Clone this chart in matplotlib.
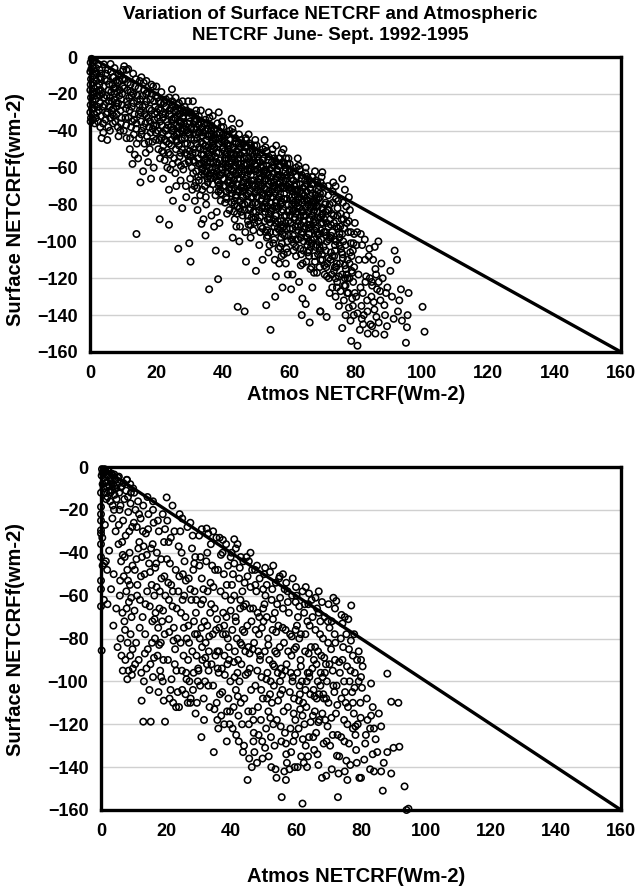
import numpy as np
import matplotlib.pyplot as plt

plt.rcParams['font.family'] = ['Liberation Sans', 'DejaVu Sans']
plt.rcParams['font.weight'] = 'bold'

TITLE = 'Variation of Surface NETCRF and Atmospheric\nNETCRF June- Sept. 1992-1995'
XLABEL = 'Atmos NETCRF(Wm-2)'
YLABEL = 'Surface NETCRFf(wm-2)'
X_TICKS = [0, 20, 40, 60, 80, 100, 120, 140, 160]
Y_TICKS = [0, -20, -40, -60, -80, -100, -120, -140, -160]
LINE_X = [0, 160]
LINE_Y = [0, -160]

# top panel: (atmos, surface)
top_pts = [
    (0.2, -3), (0.1, -8), (0.3, -12), (0.2, -15), (0.1, -18), (0.3, -22), (0.2, -26), (0.1, -30), (0.3, -33), (0.2, -35),
    (0.8, -5), (1.1, -10), (0.9, -14), (1.2, -17), (1.0, -20), (0.8, -24), (1.1, -28), (1.3, -31), (0.9, -34), (1.2, -12),
    (1.8, -6), (2.1, -9), (1.9, -13), (2.2, -16), (2.0, -19), (1.7, -23), (2.3, -27), (2.1, -30), (1.8, -33), (2.2, -21),
    (2.9, -7), (3.1, -11), (2.8, -15), (3.2, -18), (3.0, -25), (2.7, -29), (3.3, -32), (0.5, -1), (1.5, -2), (2.5, -4),
    (4.2, -4), (4.8, -9), (5.1, -13), (5.6, -18), (6.0, -22), (6.3, -8), (6.8, -15), (7.2, -11), (7.5, -20), (7.9, -25),
    (8.3, -14), (8.6, -9), (9.0, -18), (9.4, -23), (9.8, -12), (3.6, -20), (4.4, -26), (5.3, -30), (6.1, -33), (7.0, -28),
    (8.0, -31), (9.2, -29), (3.9, -36), (4.7, -34), (5.9, -27), (6.6, -24), (7.7, -17), (8.8, -21), (9.6, -26), (10.0, -7),
    (3.5, -44), (5.2, -45), (6.9, -36), (8.4, -38), (4.1, -16), (5.0, -21), (7.4, -6), (9.9, -16), (3.3, -12), (6.4, -19),
    (8.1, -27), (9.5, -33), (10.3, -5), (7.8, -13), (5.5, -38), (4.0, -41), (9.1, -40), (6.0, -40), (8.6, -43), (7.2, -32),
    (6.2, -3.8), (11.5, -6.5), (15.0, -13), (24.7, -17.5), (31.0, -24), (33.6, -39), (42.7, -33.5), (45.0, -36), (70.0, -62.5),
    (10.5, -12), (11.0, -7), (11.3, -18), (11.8, -22), (12.2, -15), (12.6, -27), (13.0, -20), (13.4, -31), (13.8, -12), (14.2, -24),
    (14.6, -17), (15.0, -29), (15.4, -35), (15.8, -21), (16.2, -14), (16.6, -26), (17.0, -32), (17.4, -19), (17.8, -38), (18.2, -23),
    (18.6, -29), (19.0, -16), (19.4, -34), (19.8, -41), (10.8, -28), (11.6, -33), (12.4, -38), (13.2, -42), (14.0, -36), (14.8, -44),
    (15.6, -40), (16.4, -47), (17.2, -43), (18.0, -50), (18.8, -46), (19.6, -27), (12.0, -50), (13.5, -53), (12.8, -58), (14.5, -55),
    (16.0, -62), (17.5, -57), (18.4, -66), (19.2, -60), (15.2, -68), (14.0, -96), (11.0, -44), (10.2, -40), (16.8, -52), (19.9, -21),
    (13.0, -9), (15.5, -11), (17.0, -13), (18.5, -15), (20.0, -16),
    (20.3, -22), (20.7, -28), (21.1, -35), (21.5, -19), (21.9, -41), (22.3, -25), (22.7, -31), (23.1, -46), (23.5, -37), (23.9, -22),
    (24.3, -28), (25.1, -34), (25.5, -43), (25.9, -50), (26.3, -26), (26.7, -38), (27.1, -31), (27.5, -45), (27.9, -24), (28.3, -36),
    (28.7, -52), (29.1, -29), (29.5, -41), (29.9, -33), (20.9, -45), (21.7, -51), (22.5, -56), (23.3, -60), (24.1, -53), (24.9, -58),
    (25.7, -63), (26.5, -57), (27.3, -67), (28.1, -61), (28.9, -70), (29.7, -56), (21.0, -88), (23.8, -91), (26.6, -104), (29.9, -101),
    (30.3, -111), (22.0, -66), (23.8, -72), (25.0, -78), (26.0, -70), (27.8, -82), (29.0, -76), (22.8, -40), (24.6, -45), (26.8, -48),
    (28.5, -27), (29.3, -47), (20.4, -33), (23.0, -27), (25.3, -29), (26.9, -35), (28.0, -39), (21.3, -25), (22.1, -48), (24.4, -38),
    (25.8, -22), (27.6, -28), (29.6, -24), (23.6, -52), (26.1, -42),
    (30.2, -30), (30.6, -38), (31.4, -45), (31.8, -52), (32.2, -34), (32.6, -41), (33.0, -58), (33.4, -29), (34.0, -47), (34.4, -36),
    (34.8, -55), (35.2, -62), (35.6, -43), (36.0, -33), (36.4, -50), (36.8, -38), (37.2, -57), (37.6, -65), (38.0, -45), (38.4, -36),
    (38.8, -52), (39.2, -41), (39.6, -60), (30.4, -48), (31.2, -56), (32.0, -62), (32.8, -67), (33.8, -61), (34.6, -70), (35.4, -66),
    (36.2, -72), (37.0, -69), (37.8, -75), (38.6, -68), (39.4, -78), (30.8, -72), (31.6, -78), (32.4, -83), (33.2, -75), (34.2, -88),
    (35.0, -80), (36.6, -86), (37.4, -92), (38.2, -84), (39.0, -90), (35.9, -126), (37.9, -105), (34.8, -96.8), (33.6, -90.5), (38.6, -120.5),
    (39.8, -35), (35.8, -30), (37.0, -32), (38.8, -30), (32.0, -29), (34.8, -34), (36.6, -42), (30.0, -42), (31.5, -35), (32.9, -49),
    (34.3, -53), (35.7, -49), (37.1, -46), (38.5, -58), (39.9, -50), (30.7, -60), (33.5, -64), (36.9, -61), (38.9, -64), (31.9, -68),
    (35.3, -57), (37.7, -54), (39.3, -72), (34.9, -76), (32.3, -71), (33.7, -43), (36.3, -66),
    (40.2, -38), (40.6, -46), (41.0, -53), (41.4, -42), (41.8, -60), (42.2, -48), (43.0, -55), (43.4, -67), (43.8, -44), (44.2, -51),
    (44.6, -73), (45.4, -58), (45.8, -64), (46.2, -47), (46.6, -80), (47.0, -54), (47.4, -70), (47.8, -42), (48.2, -61), (48.6, -76),
    (49.0, -50), (49.4, -67), (49.8, -45), (40.4, -70), (41.2, -77), (42.0, -83), (42.8, -74), (43.6, -88), (44.4, -81), (45.2, -92),
    (46.0, -86), (46.8, -95), (47.6, -89), (48.4, -98), (49.2, -84), (44.5, -135.5), (46.6, -138), (47.0, -111), (41.0, -107), (50.0, -116),
    (40.8, -56), (41.6, -50), (42.4, -64), (43.2, -41), (44.0, -59), (44.8, -47), (45.6, -71), (46.4, -62), (47.2, -49), (48.0, -69),
    (48.8, -57), (49.6, -74), (40.0, -63), (41.5, -68), (43.5, -78), (45.5, -84), (47.5, -79), (49.5, -90), (42.6, -57), (44.5, -66),
    (46.5, -55), (48.5, -48), (40.5, -44), (42.9, -39), (44.9, -42), (46.9, -44), (48.9, -52), (41.9, -72), (43.9, -63), (45.9, -76),
    (47.9, -83), (49.9, -62), (41.3, -85), (44.1, -92), (46.3, -68), (48.1, -73), (42.5, -52), (45.3, -53), (47.3, -64), (49.3, -56),
    (43.3, -49), (40.9, -58), (46.7, -72), (48.7, -87), (43.0, -98), (45.0, -100),
    (50.2, -48), (50.6, -56), (51.0, -63), (51.4, -52), (51.8, -70), (52.2, -59), (52.6, -45), (53.0, -66), (53.4, -77), (53.8, -54),
    (54.2, -61), (54.6, -83), (55.0, -50), (55.4, -68), (55.8, -74), (56.2, -57), (56.6, -89), (57.0, -64), (57.4, -80), (57.8, -52),
    (58.2, -71), (58.6, -86), (59.0, -60), (59.4, -77), (59.8, -55), (50.4, -80), (51.2, -87), (52.0, -93), (52.8, -84), (53.6, -97),
    (54.4, -90), (55.2, -101), (56.0, -95), (56.8, -104), (57.6, -98), (58.4, -107), (59.2, -93), (54.4, -148), (53.1, -134.6), (55.8, -130),
    (56.0, -119), (58.0, -125), (57.0, -112), (52.0, -110), (59.6, -118), (50.8, -66), (51.6, -60), (52.4, -74), (53.2, -51), (54.0, -69),
    (54.8, -57), (55.6, -81), (56.4, -72), (57.2, -59), (58.0, -79), (58.8, -67), (59.6, -84), (50.0, -73), (51.5, -78), (53.5, -88),
    (55.5, -92), (57.5, -89), (59.5, -100), (52.6, -67), (54.5, -76), (56.5, -65), (58.5, -58), (50.5, -54), (52.9, -49), (54.9, -53),
    (56.9, -55), (58.9, -62), (51.9, -82), (53.9, -73), (55.9, -86), (57.9, -93), (59.9, -72), (51.3, -95), (54.1, -102), (56.3, -78),
    (58.1, -83), (52.5, -62), (55.3, -63), (57.3, -74), (59.3, -66), (53.3, -59), (50.9, -68), (56.7, -82), (58.7, -97), (55.7, -110),
    (57.7, -108), (59.0, -112), (51.0, -102), (53.8, -106), (58.3, -50), (59.1, -55), (56.1, -48),
    (60.2, -58), (60.6, -66), (61.0, -73), (61.4, -62), (61.8, -80), (62.2, -69), (62.6, -55), (63.0, -76), (63.4, -87), (63.8, -64),
    (64.2, -71), (64.6, -93), (65.0, -60), (65.4, -78), (65.8, -84), (66.2, -67), (66.6, -99), (67.0, -74), (67.4, -90), (67.8, -62),
    (68.2, -81), (68.6, -96), (69.0, -70), (69.4, -87), (69.8, -65), (60.4, -90), (61.2, -97), (62.0, -103), (62.8, -94), (63.6, -107),
    (64.4, -100), (65.2, -111), (66.0, -105), (66.8, -114), (67.6, -108), (68.4, -117), (69.2, -103), (63.8, -140), (66.2, -144), (60.6, -126),
    (65.0, -134), (64.0, -131), (69.4, -138), (61.0, -118), (63.0, -122), (60.8, -76), (61.6, -70), (62.4, -84), (63.2, -61), (64.0, -79),
    (64.8, -67), (65.6, -91), (66.4, -82), (67.2, -69), (68.0, -89), (68.8, -77), (69.6, -94), (60.0, -83), (61.5, -88), (63.5, -98),
    (65.5, -102), (67.5, -99), (69.5, -110), (62.6, -77), (64.5, -86), (66.5, -75), (68.5, -68), (60.5, -64), (62.9, -59), (64.9, -63),
    (66.9, -65), (68.9, -72), (61.9, -92), (63.9, -83), (65.9, -96), (67.9, -103), (69.9, -82), (61.3, -105), (64.1, -112), (66.3, -88),
    (68.1, -93), (62.5, -72), (65.3, -73), (67.3, -84), (69.3, -76), (63.3, -69), (60.9, -78), (66.7, -92), (68.7, -107), (67.0, -125),
    (70.3, -70), (70.8, -80), (71.3, -90), (71.8, -75), (72.3, -98), (72.8, -85), (73.3, -68), (73.8, -105), (74.3, -92), (74.8, -78),
    (75.3, -112), (75.8, -88), (76.3, -100), (76.8, -72), (77.3, -118), (77.8, -95), (78.3, -83), (78.8, -108), (79.3, -122), (79.8, -90),
    (70.5, -95), (71.0, -105), (71.5, -112), (72.0, -120), (72.5, -110), (73.0, -125), (73.5, -116), (74.0, -130), (74.5, -122), (75.0, -135),
    (75.5, -127), (76.0, -118), (76.5, -132), (77.0, -140), (77.5, -128), (78.0, -136), (78.5, -143), (79.0, -131), (79.5, -140), (71.3, -141),
    (70.0, -85), (71.2, -97), (72.6, -91), (73.6, -99), (74.6, -86), (75.6, -104), (76.6, -93), (77.6, -110), (78.6, -101), (79.6, -114),
    (70.7, -118), (72.2, -128), (74.2, -114), (76.2, -109), (78.2, -120), (71.6, -83), (73.2, -79), (75.2, -96), (77.2, -86), (79.2, -105),
    (76.0, -147), (78.7, -154), (74.0, -70), (69.4, -138), (76.0, -66), (78.0, -76), (77.0, -124), (73.0, -108), (76.8, -120),
    (80.6, -156.6), (80.5, -95), (81.0, -110), (81.5, -125), (82.0, -102), (82.5, -140), (83.2, -119), (83.5, -132), (84.0, -108), (84.5, -145),
    (85.0, -124), (85.7, -137), (86.0, -115), (86.0, -150), (86.3, -141), (87.0, -144), (87.4, -127), (88.7, -134.6), (88.7, -150.6), (89.2, -128),
    (89.5, -146), (80.2, -130), (81.8, -135), (82.3, -145), (84.8, -130), (86.5, -126), (82.8, -99), (84.3, -120), (85.8, -103), (87.8, -112),
    (83.7, -150), (81.3, -148), (85.3, -110),
    (90.5, -116), (91.5, -142), (93.2, -132), (93.7, -126), (94.0, -143), (95.2, -155), (95.5, -146.6), (95.7, -140), (100.2, -135.5), (100.8, -149),
    (91.0, -130), (92.5, -110), (96.0, -128), (92.8, -138), (91.8, -105),
]

# top panel, the thick band along the line
top_band = [
    (0.4, -6.5), (0.7, -19), (1.3, -26), (1.6, -8), (2.4, -35), (2.7, -18), (3.4, -9), (3.8, -27), (4.5, -12), (4.9, -31),
    (5.4, -7), (5.7, -24), (6.5, -29), (6.9, -11), (7.3, -23), (7.6, -35), (8.2, -19), (8.9, -13), (9.3, -36), (9.7, -20),
    (0.6, -28), (1.4, -36), (2.9, -21), (4.3, -22), (5.8, -15), (6.7, -31), (7.1, -17), (8.5, -25), (9.4, -10), (3.1, -38),
    (10.3, -17), (10.7, -33), (11.1, -24), (11.4, -14), (11.9, -29), (12.3, -19), (12.7, -35), (13.1, -25), (13.6, -16), (13.9, -39),
    (14.3, -21), (14.7, -31), (15.1, -23), (15.5, -42), (15.9, -27), (16.3, -18), (16.7, -36), (17.1, -24), (17.5, -33), (17.9, -28),
    (18.3, -41), (18.7, -20), (19.1, -37), (19.5, -31), (19.9, -45), (10.9, -37), (12.1, -44), (13.3, -34), (14.1, -47), (15.3, -30),
    (16.1, -38), (16.9, -20), (17.7, -46), (18.1, -35), (19.3, -24), (11.3, -26), (12.5, -21), (14.9, -26), (16.5, -31), (18.9, -39),
    (20.2, -30), (20.5, -40), (20.8, -24), (21.2, -29), (21.6, -37), (22.0, -33), (22.4, -45), (22.8, -27), (23.2, -35), (23.6, -42),
    (24.0, -31), (24.5, -48), (24.9, -26), (25.3, -39), (25.7, -33), (26.1, -46), (26.5, -29), (26.9, -41), (27.3, -36), (27.7, -50),
    (28.1, -32), (28.5, -44), (28.9, -38), (29.3, -53), (29.7, -30), (20.6, -50), (21.4, -44), (22.2, -52), (23.0, -39), (23.8, -47),
    (24.6, -34), (25.4, -55), (26.2, -37), (27.0, -54), (27.8, -40), (28.6, -58), (29.4, -36), (21.8, -31), (22.9, -23), (23.9, -29),
    (24.8, -24), (25.9, -30), (26.8, -25), (27.9, -33), (28.8, -30), (29.8, -42), (20.1, -37), (21.1, -55), (24.2, -61), (27.4, -59),
    (30.1, -35), (30.5, -44), (30.9, -52), (31.3, -39), (31.7, -31), (32.1, -47), (32.5, -55), (32.9, -37), (33.3, -50), (33.7, -58),
    (34.1, -41), (34.5, -62), (34.9, -45), (35.3, -36), (35.7, -53), (36.1, -60), (36.5, -40), (36.9, -48), (37.3, -63), (37.7, -44),
    (38.1, -52), (38.5, -67), (38.9, -41), (39.3, -56), (39.7, -46), (30.3, -54), (31.1, -63), (31.9, -42), (32.7, -36), (33.5, -46),
    (34.3, -57), (35.1, -51), (35.9, -64), (36.7, -54), (37.5, -49), (38.3, -62), (39.1, -69), (39.9, -58), (30.6, -31), (31.8, -35),
    (32.8, -32), (33.9, -38), (34.7, -40), (35.5, -39), (36.4, -37), (37.4, -39), (38.2, -42), (39.5, -38), (30.2, -66), (31.5, -70),
    (32.6, -65), (33.8, -72), (35.0, -59), (36.2, -57), (37.8, -60), (38.7, -73), (39.4, -64), (34.2, -50), (36.8, -45), (38.6, -47),
    (40.1, -42), (40.5, -51), (40.9, -60), (41.3, -47), (41.7, -55), (42.1, -40), (42.5, -61), (42.9, -69), (43.3, -53), (43.7, -46),
    (44.1, -64), (44.5, -55), (44.9, -72), (45.3, -49), (45.7, -60), (46.1, -76), (46.5, -52), (46.9, -66), (47.3, -58), (47.7, -74),
    (48.1, -47), (48.5, -64), (48.9, -80), (49.3, -54), (49.7, -70), (40.3, -66), (41.1, -73), (41.9, -65), (42.7, -79), (43.5, -71),
    (44.3, -85), (45.1, -66), (45.9, -80), (46.7, -59), (47.5, -68), (48.3, -82), (49.1, -76), (49.9, -87), (40.7, -79), (41.5, -59),
    (42.3, -45), (43.1, -62), (43.9, -75), (44.7, -50), (45.5, -45), (46.3, -51), (47.1, -45), (47.9, -55), (48.7, -61), (49.5, -48),
    (40.2, -49), (41.4, -63), (42.6, -72), (43.8, -57), (45.0, -62), (46.2, -71), (47.4, -61), (48.6, -67), (49.8, -79), (41.8, -67),
    (43.4, -84), (45.4, -78), (47.8, -91), (49.2, -94), (44.2, -69), (46.6, -83), (48.2, -57), (42.4, -53), (44.6, -58), (46.8, -49),
    (50.1, -52), (50.5, -61), (50.9, -70), (51.3, -57), (51.7, -65), (52.1, -50), (52.5, -71), (52.9, -79), (53.3, -63), (53.7, -56),
    (54.1, -74), (54.5, -65), (54.9, -82), (55.3, -59), (55.7, -70), (56.1, -86), (56.5, -62), (56.9, -76), (57.3, -68), (57.7, -84),
    (58.1, -57), (58.5, -74), (58.9, -90), (59.3, -64), (59.7, -80), (50.3, -76), (51.1, -83), (51.9, -75), (52.7, -89), (53.5, -81),
    (54.3, -95), (55.1, -76), (55.9, -90), (56.7, -69), (57.5, -78), (58.3, -92), (59.1, -86), (59.9, -97), (50.7, -89), (51.5, -69),
    (52.3, -55), (53.1, -72), (53.9, -85), (54.7, -60), (55.5, -55), (56.3, -61), (57.1, -55), (57.9, -65), (58.7, -71), (59.5, -58),
    (50.2, -59), (51.4, -73), (52.6, -82), (53.8, -67), (55.0, -72), (56.2, -81), (57.4, -71), (58.6, -77), (59.8, -89), (51.8, -77),
    (53.4, -94), (55.4, -88), (57.8, -101), (59.2, -104), (54.2, -79), (56.6, -93), (58.2, -67), (52.4, -63), (54.6, -68), (56.8, -59),
    (60.1, -62), (60.5, -71), (60.9, -80), (61.3, -67), (61.7, -75), (62.1, -60), (62.5, -81), (62.9, -89), (63.3, -73), (63.7, -66),
    (64.1, -84), (64.5, -75), (64.9, -92), (65.3, -69), (65.7, -80), (66.1, -96), (66.5, -72), (66.9, -86), (67.3, -78), (67.7, -94),
    (68.1, -67), (68.5, -84), (68.9, -100), (69.3, -74), (69.7, -90), (60.3, -86), (61.1, -93), (61.9, -85), (62.7, -99), (63.5, -91),
    (64.3, -105), (65.1, -86), (65.9, -100), (66.7, -79), (67.5, -88), (68.3, -102), (69.1, -96), (69.9, -107), (60.7, -99), (61.5, -79),
    (62.3, -65), (63.1, -82), (63.9, -95), (64.7, -70), (65.5, -65), (66.3, -71), (67.1, -65), (67.9, -75), (68.7, -81), (69.5, -68),
    (60.2, -69), (61.4, -83), (62.6, -92), (63.8, -77), (65.0, -82), (66.2, -91), (67.4, -81), (68.6, -87), (69.8, -99), (61.8, -87),
    (63.4, -104), (65.4, -98), (67.8, -111), (69.2, -114), (64.2, -89), (66.6, -103), (68.2, -77), (62.4, -73), (64.6, -78), (66.8, -69),
    (70.2, -74), (70.6, -88), (71.0, -79), (71.4, -100), (71.8, -92), (72.2, -80), (72.6, -106), (73.0, -95), (73.4, -86), (73.8, -114),
    (74.2, -100), (74.6, -82), (75.0, -119), (75.4, -92), (75.8, -106), (76.2, -79), (76.6, -124), (77.0, -102), (77.4, -90), (77.8, -128),
    (78.2, -112), (78.6, -95), (79.0, -117), (79.4, -101), (79.8, -128), (70.4, -103), (71.2, -114), (72.0, -99), (72.8, -118), (73.6, -108),
    (74.4, -125), (75.2, -102), (76.0, -96), (76.8, -113), (77.6, -120), (78.4, -106), (79.2, -135), (70.9, -95), (72.4, -88), (74.8, -93),
    (76.4, -88), (78.8, -116), (71.7, -70), (73.1, -73), (75.6, -85), (77.2, -81), (79.6, -96), (70.1, -82), (74.1, -77), (78.0, -89),
    (80.3, -102), (80.9, -118), (81.6, -96), (82.2, -128), (82.9, -110), (83.6, -138), (84.2, -104), (84.9, -122), (85.5, -133), (86.2, -118),
    (86.9, -100), (87.5, -132), (88.2, -120), (88.9, -140), (89.6, -125), (80.6, -139), (81.9, -142), (83.0, -122), (85.0, -146), (87.0, -122),
]

# top panel, the darkest core of the band
top_core = [
    (25.3, -33), (26.2, -41), (27.4, -35), (28.6, -47), (29.1, -40), (30.4, -39), (31.2, -50), (32.3, -44), (33.6, -53), (34.7, -48),
    (35.4, -42), (36.3, -55), (37.1, -50), (38.2, -57), (39.0, -47), (39.8, -61), (40.6, -55), (41.6, -48), (42.2, -67), (43.3, -59),
    (44.0, -53), (44.8, -63), (45.7, -70), (46.4, -58), (47.2, -75), (48.0, -62), (48.8, -69), (49.6, -58), (50.4, -72), (51.3, -66),
    (52.0, -81), (52.8, -61), (53.6, -75), (54.4, -84), (55.2, -70), (56.0, -79), (56.7, -64), (57.6, -91), (58.4, -77), (59.4, -70),
    (60.3, -93), (61.0, -84), (61.9, -72), (62.8, -79), (63.6, -96), (64.3, -86), (65.2, -77), (66.0, -93), (66.8, -101), (67.6, -83),
    (68.4, -95), (69.3, -105), (70.2, -90), (71.0, -84), (71.9, -109), (72.7, -97), (73.5, -90), (74.4, -112), (75.2, -98), (76.1, -107),
    (26.0, -45), (28.0, -30), (30.0, -51), (32.0, -38), (34.0, -60), (36.0, -42), (38.0, -64), (40.0, -45), (42.0, -71), (44.0, -47),
    (46.0, -73), (48.0, -51), (50.0, -84), (52.0, -56), (54.0, -88), (56.0, -66), (58.0, -96), (60.0, -71), (62.0, -99), (64.0, -74),
    (66.0, -108), (68.0, -79), (70.0, -110), (72.0, -83), (74.0, -120), (27.3, -52), (31.5, -57), (35.5, -68), (39.5, -74), (43.5, -80),
    (47.5, -86), (51.5, -92), (55.5, -99), (59.5, -106), (63.5, -113), (67.5, -117), (33.1, -41), (37.2, -44), (41.3, -52), (45.4, -55),
    (49.5, -61), (53.6, -64), (57.7, -70), (61.8, -75), (65.9, -78), (69.9, -86), (29.8, -57), (34.6, -64), (38.8, -70), (43.9, -76),
    (48.4, -91), (52.9, -95), (57.3, -103), (62.1, -108), (66.4, -115), (71.4, -119), (24.6, -40), (27.7, -44), (32.9, -58), (36.6, -63),
    (41.0, -76), (45.1, -82), (49.3, -88), (53.3, -98), (57.1, -94), (61.4, -101), (65.6, -106), (70.6, -113), (73.8, -102), (77.1, -115),
]

# bottom panel: (atmos, surface)
bot_pts = [
    (0.3, -1), (0.6, -3), (1.0, -5), (1.4, -2), (1.8, -7), (2.2, -4), (2.6, -9), (3.0, -6), (3.4, -11), (3.8, -8),
    (4.2, -13), (4.6, -10), (0.5, -8), (1.2, -12), (2.0, -14), (2.8, -16), (3.6, -18), (4.4, -6), (0.2, -4), (0.8, -10),
    (1.6, -15), (2.4, -11), (3.2, -3), (4.0, -20), (4.8, -15), (0.0, -18.6), (0.0, -22), (0.0, -25), (0.0, -29.5), (0.0, -31),
    (0.0, -36), (0.0, -42), (0.0, -53), (0.0, -57), (0.0, -65), (0.2, -85.6), (0.5, -46), (1.0, -45), (1.5, -44), (0.0, -12),
    (0.4, -33), (1.2, -27), (0.9, -62), (2.0, -64), (1.1, -1), (2.3, -2), (3.7, -4), (1.7, -9), (2.9, -12), (4.1, -9),
    (5.2, -5), (5.6, -12), (6.0, -18), (6.4, -9), (6.8, -25), (7.2, -15), (7.6, -32), (8.0, -6), (8.4, -21), (8.8, -40),
    (9.2, -12), (9.6, -28), (5.4, -36), (6.2, -44), (7.0, -51), (7.8, -58), (8.6, -63), (9.4, -70), (5.8, -60), (6.6, -68),
    (7.4, -76), (8.2, -82), (9.0, -88), (9.8, -94), (3.8, -74), (6.0, -80), (7.5, -90), (8.5, -95), (9.5, -97), (5.5, -27),
    (6.5, -35), (7.3, -42), (8.1, -48), (8.9, -55), (9.7, -46), (5.9, -53), (7.9, -66), (9.1, -78), (6.3, -88), (8.7, -30),
    (10.2, -12), (10.6, -20), (11.0, -28), (11.4, -16), (11.8, -35), (12.2, -24), (12.6, -42), (13.0, -18), (13.4, -50), (13.8, -31),
    (14.2, -58), (14.6, -22), (15.0, -65), (15.4, -38), (15.8, -72), (16.2, -26), (16.6, -80), (17.0, -45), (17.4, -88), (17.8, -30),
    (18.2, -95), (18.6, -52), (19.0, -100), (19.4, -35), (19.8, -60), (10.4, -48), (11.2, -55), (12.0, -62), (12.8, -70), (13.6, -78),
    (14.4, -85), (15.2, -92), (16.0, -98), (16.8, -68), (17.6, -75), (18.4, -82), (19.2, -90), (10.8, -82), (11.6, -90), (12.4, -96),
    (13.2, -100), (14.0, -94), (14.8, -45), (15.6, -55), (16.4, -60), (17.2, -40), (18.0, -66), (18.8, -72), (19.6, -78), (13.0, -118.8),
    (15.3, -118.8), (19.7, -118.8), (11.5, -38), (12.9, -30), (14.3, -14), (16.0, -20), (17.5, -25), (19.0, -22), (20.2, -14.2), (16.0, -16),
    (18.5, -98), (7.9, -6), (9.0, -8),
    (20.4, -25), (20.8, -35), (21.2, -45), (21.6, -55), (22.0, -65), (22.4, -75), (22.8, -85), (23.2, -95), (23.6, -105), (24.0, -112),
    (24.4, -30), (24.8, -40), (25.2, -50), (25.6, -60), (26.0, -70), (26.4, -80), (26.8, -90), (27.2, -100), (27.6, -108), (28.0, -38),
    (28.4, -48), (28.8, -58), (29.2, -68), (29.6, -78), (21.7, -99), (20.6, -90), (21.4, -104), (22.2, -110), (23.0, -48), (23.8, -58),
    (24.6, -68), (25.4, -88), (26.2, -96), (27.0, -52), (27.8, -62), (28.6, -72), (29.4, -88), (29.8, -100), (20.9, -62), (22.6, -30),
    (24.2, -22), (26.6, -28), (28.2, -32), (29.0, -42), (25.0, -104), (26.0, -106), (27.5, -110), (28.5, -96), (23.5, -80), (21.0, -77),
    (29.5, -110), (22.0, -18), (25.0, -24), (27.5, -26),
    (30.2, -32), (30.6, -42), (31.0, -52), (31.4, -62), (31.8, -72), (32.2, -82), (32.6, -92), (33.0, -102), (33.4, -112), (33.8, -36),
    (34.2, -46), (34.6, -56), (35.0, -66), (35.4, -76), (35.8, -86), (36.2, -96), (36.6, -106), (37.0, -116), (37.4, -40), (37.8, -50),
    (38.2, -60), (38.6, -70), (39.0, -80), (39.4, -90), (39.8, -100), (30.9, -126), (34.7, -133), (30.4, -80), (31.2, -90), (32.0, -100),
    (32.8, -58), (33.6, -68), (34.4, -78), (35.2, -88), (36.0, -48), (36.8, -58), (37.6, -68), (38.4, -78), (39.2, -108), (30.8, -64),
    (32.4, -44), (34.0, -92), (35.6, -110), (37.2, -94), (38.8, -114), (39.6, -120), (31.6, -108), (33.2, -86), (35.8, -118), (37.9, -120),
    (38.5, -36), (36.5, -33), (34.5, -30), (39.9, -42), (38.0, -88), (36.4, -75), (32.7, -74), (30.0, -95), (38.7, -128), (32.5, -28.7),
    (31.0, -29), (33.0, -31), (35.5, -33), (37.5, -34),
    (40.2, -40), (40.6, -50), (41.0, -60), (41.4, -70), (41.8, -80), (42.2, -90), (42.6, -100), (43.0, -110), (43.4, -120), (43.8, -44),
    (44.2, -54), (44.6, -64), (45.0, -74), (45.4, -84), (45.8, -94), (46.2, -104), (46.6, -114), (47.0, -124), (47.4, -48), (47.8, -58),
    (48.2, -68), (48.6, -78), (49.0, -88), (49.4, -98), (49.8, -108), (40.4, -76), (41.2, -86), (42.0, -96), (42.8, -66), (43.6, -76),
    (44.4, -86), (45.2, -96), (46.0, -56), (46.8, -66), (47.6, -76), (48.4, -86), (49.2, -118), (40.8, -112), (41.6, -125), (42.4, -128),
    (44.0, -130), (45.6, -136), (46.4, -140), (47.2, -133), (48.0, -138), (49.6, -128), (41.0, -45), (42.5, -52), (43.5, -58), (44.8, -42),
    (46.5, -48), (48.8, -52), (40.0, -62), (45.5, -120), (47.5, -102), (43.2, -92), (48.3, -112), (49.5, -75), (44.1, -108), (41.5, -104),
    (46.7, -85), (42.9, -82), (49.9, -66), (45.1, -146), (41.0, -33.7), (41.5, -38), (43.0, -42), (45.5, -44), (48.0, -46), (42.0, -36),
    (46.0, -40),
    (50.2, -50), (50.6, -60), (51.0, -70), (51.4, -80), (51.8, -90), (52.2, -100), (52.6, -110), (53.0, -120), (53.4, -130), (53.8, -54),
    (54.2, -64), (54.6, -74), (55.0, -84), (55.4, -94), (55.8, -104), (56.2, -114), (56.6, -124), (57.0, -134), (57.4, -58), (57.8, -68),
    (58.2, -78), (58.6, -88), (59.0, -98), (59.4, -108), (59.8, -118), (50.4, -86), (51.2, -96), (52.0, -106), (52.8, -76), (53.6, -86),
    (54.4, -96), (55.2, -106), (56.0, -66), (56.8, -76), (57.6, -86), (58.4, -96), (59.2, -128), (50.8, -122), (51.6, -135), (52.4, -140),
    (54.0, -145), (55.6, -154), (56.4, -142), (57.2, -138), (58.0, -141), (59.6, -140), (51.0, -55), (52.5, -62), (53.5, -68), (54.8, -52),
    (56.5, -57), (58.8, -60), (50.0, -72), (55.5, -128), (57.5, -112), (53.2, -102), (58.3, -122), (59.5, -85), (54.1, -118), (51.5, -114),
    (56.7, -95), (52.9, -92), (59.9, -76), (55.1, -100), (50.5, -47), (52.0, -49), (55.0, -51), (57.0, -54), (53.0, -46), (56.0, -50),
    (59.0, -52),
    (60.2, -60), (60.6, -70), (61.0, -80), (61.4, -90), (61.8, -100), (62.2, -110), (62.6, -120), (63.0, -130), (63.4, -140), (63.8, -64),
    (64.2, -74), (64.6, -84), (65.0, -94), (65.4, -104), (65.8, -114), (66.2, -124), (66.6, -134), (67.0, -68), (67.4, -78), (67.8, -88),
    (68.2, -98), (68.6, -108), (69.0, -118), (69.4, -128), (69.8, -72), (62.0, -157), (60.4, -96), (61.2, -106), (62.0, -116), (62.8, -86),
    (63.6, -96), (64.4, -106), (65.2, -116), (66.0, -76), (66.8, -86), (67.6, -96), (68.4, -106), (69.2, -92), (60.8, -122), (61.6, -135),
    (62.4, -138), (64.0, -126), (65.6, -132), (66.4, -108), (67.2, -118), (68.0, -145), (69.3, -144), (61.0, -65), (62.5, -68), (63.5, -72),
    (64.8, -62), (66.5, -66), (68.8, -70), (60.0, -84), (65.5, -90), (67.5, -102), (63.2, -112), (68.3, -80), (69.5, -100), (64.1, -98),
    (61.5, -78), (66.7, -100), (62.9, -104), (60.0, -56), (62.0, -58), (64.0, -59), (66.0, -61), (68.0, -63), (63.0, -56), (67.0, -58),
    (70.3, -75), (70.8, -85), (71.3, -95), (71.8, -105), (72.3, -115), (72.8, -125), (73.3, -135), (73.8, -80), (74.3, -90), (74.8, -100),
    (75.3, -110), (75.8, -120), (76.3, -85), (76.8, -95), (77.3, -105), (77.8, -115), (78.3, -125), (78.8, -90), (79.3, -100), (79.8, -110),
    (72.4, -62.5), (77.0, -64.6), (70.5, -130), (71.0, -141), (72.9, -154), (72.6, -134.7), (75.0, -142), (75.5, -137), (75.8, -146), (77.5, -122),
    (78.5, -132), (79.5, -145), (70.0, -110), (72.0, -90), (74.0, -108), (76.0, -112), (78.0, -103), (71.0, -72), (73.5, -96), (75.5, -78),
    (77.5, -88), (79.0, -120), (72.5, -102), (74.8, -118), (76.5, -100), (70.0, -64), (72.0, -66), (74.0, -69), (71.5, -61), (75.0, -70),
    (80.0, -98), (80.0, -90), (80.5, -93), (80.3, -103), (81.0, -136.5), (81.3, -129), (82.8, -141), (82.8, -122), (83.1, -116), (83.1, -101),
    (83.6, -112), (83.6, -134), (84.0, -142), (84.0, -122), (84.5, -127), (86.2, -142), (86.2, -121), (86.7, -151), (88.1, -96.4), (88.1, -133),
    (89.3, -109.5), (89.3, -143), (90.0, -131), (91.5, -110), (91.8, -130.5), (93.4, -149), (94.6, -159.4), (94.0, -160), (80.0, -145), (81.8, -108),
    (82.0, -118), (85.0, -133), (87.0, -138), (85.5, -115), (81.5, -125),
]

# bottom panel, more scattered points
bot_extra = [
    (0.5, -2.5), (1.3, -6.5), (2.1, -1.5), (2.7, -5.5), (3.3, -7.5), (4.1, -3.5), (4.9, -8.5), (5.5, -4.5), (6.1, -9.5), (6.9, -7.5),
    (7.7, -11), (8.3, -14), (9.1, -17), (9.9, -10), (5.7, -20), (3.5, -24), (4.5, -30), (2.5, -39), (6.7, -41), (8.3, -53),
    (3.1, -57), (4.7, -66), (1.9, -48), (7.2, -72), (9.3, -61), (5.1, -84), (6.7, -95), (8.1, -99), (9.7, -85), (3.9, -50),
    (10.1, -26), (10.9, -43), (11.7, -22), (12.3, -51), (13.1, -37), (13.7, -64), (14.5, -29), (15.1, -49), (15.9, -36), (16.5, -71),
    (17.1, -56), (17.9, -83), (18.5, -43), (19.1, -67), (19.7, -29), (10.3, -67), (11.9, -75), (13.5, -87), (14.9, -104), (16.3, -89),
    (17.7, -105), (19.3, -109), (12.5, -109), (10.5, -92), (18.1, -58), (15.7, -82), (11.1, -60), (14.1, -41), (16.7, -47), (19.5, -51),
    (20.3, -43), (20.9, -71), (21.5, -33), (22.1, -58), (22.7, -92), (23.3, -66), (23.9, -37), (24.5, -82), (25.1, -62), (25.7, -44),
    (26.3, -99), (26.9, -74), (27.5, -57), (28.1, -86), (28.7, -45), (29.3, -62), (29.9, -94), (21.1, -108), (23.1, -112), (24.9, -95),
    (26.7, -110), (28.3, -104), (29.1, -115), (22.3, -81), (27.1, -82), (25.5, -75), (20.7, -54), (28.9, -78), (24.1, -51), (26.1, -53),
    (30.3, -46), (30.9, -75), (31.5, -57), (32.1, -89), (32.7, -40), (33.3, -79), (33.9, -64), (34.5, -102), (35.1, -48), (35.7, -71),
    (36.3, -86), (36.9, -41), (37.5, -78), (38.1, -97), (38.7, -55), (39.3, -84), (39.9, -67), (30.5, -102), (31.7, -118), (33.1, -95),
    (34.9, -113), (36.1, -122), (37.3, -105), (38.9, -92), (39.7, -114), (31.1, -84), (33.7, -54), (35.9, -94), (37.9, -74), (39.1, -46),
    (40.3, -55), (40.9, -91), (41.5, -72), (42.1, -107), (42.7, -47), (43.3, -83), (43.9, -65), (44.5, -97), (45.1, -51), (45.7, -87),
    (46.3, -72), (46.9, -118), (47.5, -55), (48.1, -95), (48.7, -70), (49.3, -104), (49.9, -57), (40.5, -122), (42.3, -116), (43.7, -133),
    (45.3, -114), (46.9, -128), (48.5, -125), (49.7, -136), (41.1, -98), (44.1, -77), (47.1, -82), (48.9, -90), (42.9, -62), (45.9, -66),
    (50.3, -64), (50.9, -99), (51.5, -83), (52.1, -117), (52.7, -57), (53.3, -93), (53.9, -77), (54.5, -109), (55.1, -61), (55.7, -97),
    (56.3, -82), (56.9, -129), (57.5, -63), (58.1, -105), (58.7, -79), (59.3, -115), (59.9, -63), (50.5, -131), (52.3, -126), (53.7, -141),
    (55.3, -121), (56.9, -146), (58.5, -133), (59.7, -125), (51.1, -108), (54.1, -87), (57.1, -92), (58.9, -100), (52.9, -71), (55.9, -75),
    (60.3, -74), (60.9, -109), (61.5, -93), (62.1, -127), (62.7, -64), (63.3, -100), (63.9, -87), (64.5, -119), (65.1, -70), (65.7, -107),
    (66.3, -92), (66.9, -139), (67.5, -72), (68.1, -115), (68.7, -89), (69.3, -108), (69.9, -82), (60.5, -140), (61.3, -113), (63.7, -135),
    (65.3, -126), (66.9, -119), (68.5, -129), (69.7, -121), (61.1, -102), (64.1, -96), (67.1, -106), (68.9, -96), (62.9, -78), (65.9, -84),
    (70.3, -92), (70.9, -117), (71.5, -102), (72.1, -82), (72.7, -111), (73.3, -91), (73.9, -126), (74.5, -84), (75.1, -105), (75.7, -93),
    (76.3, -129), (76.9, -81), (77.5, -110), (78.1, -96), (78.7, -138), (79.3, -86), (79.9, -117), (71.3, -125), (73.1, -143), (74.9, -128),
    (76.7, -139), (78.3, -121), (71.9, -78), (74.3, -73), (76.1, -71), (77.9, -78),
]

top_x, top_y = np.array(top_pts + top_band + top_core).T
bot_x, bot_y = np.array(bot_pts + bot_extra).T


def draw_panel(ax, xs, ys):
    ax.scatter(xs, ys, s=21, facecolors='none', edgecolors='black', linewidths=1.15, zorder=3, clip_on=False)
    ax.plot(LINE_X, LINE_Y, color='black', lw=2.4, zorder=4)
    ax.set_xlim(0, 160)
    ax.set_ylim(-160, 0)
    ax.set_xticks(X_TICKS)
    ax.set_yticks(Y_TICKS)
    ax.tick_params(length=0, labelsize=13, pad=9)
    ax.yaxis.grid(True, color='#d0d0d0', lw=1)
    ax.set_axisbelow(True)
    for sp in ax.spines.values():
        sp.set_linewidth(2.4)
        sp.set_color('black')
        sp.set_zorder(5)
    for lab in ax.get_xticklabels() + ax.get_yticklabels():
        lab.set_fontweight('bold')


fig = plt.figure(figsize=(6.38, 8.91), dpi=100)
ax1 = fig.add_axes([90/638, 1-352/891, 531/638, 295/891])
ax2 = fig.add_axes([101/638, 1-810/891, 520/638, 343/891])
draw_panel(ax1, top_x, top_y)
draw_panel(ax2, bot_x, bot_y)

fig.text(330/638, 1-25/891, TITLE, ha='center', va='center', fontsize=13.5, fontweight='bold', linespacing=1.35)
fig.text(356/638, 1-395/891, XLABEL, ha='center', va='center', fontsize=14.5, fontweight='bold')
fig.text(356/638, 1-876/891, XLABEL, ha='center', va='center', fontsize=14.5, fontweight='bold')
fig.text(16/638, 1-210/891, YLABEL, ha='center', va='center', rotation=90, fontsize=14.5, fontweight='bold')
fig.text(16/638, 1-640/891, YLABEL, ha='center', va='center', rotation=90, fontsize=14.5, fontweight='bold')

fig.savefig('out.png', dpi=100)
